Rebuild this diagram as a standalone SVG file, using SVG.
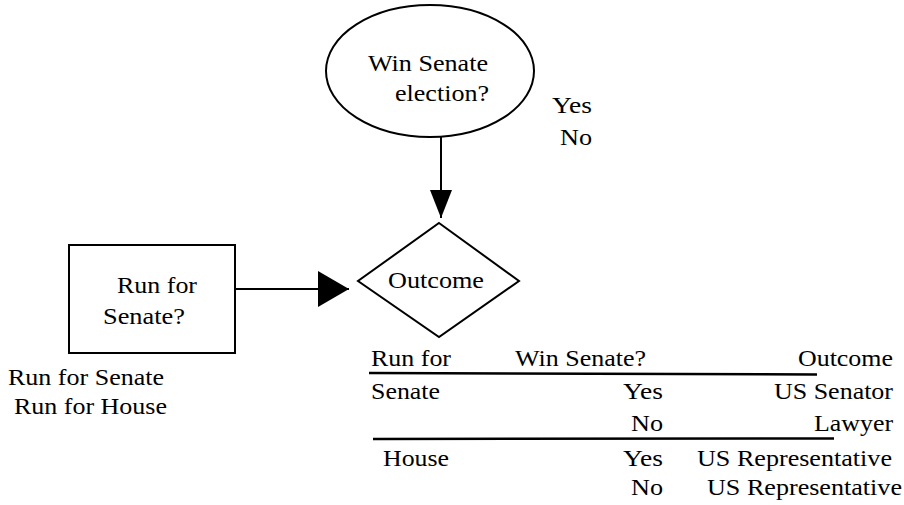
<svg xmlns="http://www.w3.org/2000/svg" width="904" height="505" viewBox="0 0 904 505">
  <style>
    .shape { fill: #ffffff; stroke: #000000; stroke-width: 2; }
    .edge { fill: none; stroke: #000000; stroke-width: 2; }
    .rule { fill: none; stroke: #000000; stroke-width: 2.5; }
    .lbl { font-family: 'Liberation Serif', 'Times New Roman', Times, serif; font-size: 24px; fill: #000000; }
  </style>
  <defs>
    <marker id="head-down" markerUnits="userSpaceOnUse" markerWidth="28" markerHeight="22" refX="28" refY="11" orient="auto">
      <path d="M0,0 L28,11 L0,22 Z" fill="#000000"/>
    </marker>
    <marker id="head-right" markerUnits="userSpaceOnUse" markerWidth="31" markerHeight="36" refX="31" refY="18" orient="auto">
      <path d="M0,0 L31,18 L0,36 Z" fill="#000000"/>
    </marker>
  </defs>

  <!-- chance node: election result -->
  <g id="node-win-senate">
    <ellipse class="shape" cx="430" cy="71" rx="104" ry="66"/>
    <text class="lbl" x="368" y="71" textLength="120" lengthAdjust="spacingAndGlyphs">Win Senate</text>
    <text class="lbl" x="395" y="101" textLength="94" lengthAdjust="spacingAndGlyphs">election?</text>
  </g>
  <g id="states-win-senate">
    <text class="lbl" x="552" y="113" textLength="40" lengthAdjust="spacingAndGlyphs">Yes</text>
    <text class="lbl" x="560" y="145" textLength="32" lengthAdjust="spacingAndGlyphs">No</text>
  </g>

  <!-- decision node -->
  <g id="node-run-for-senate">
    <rect class="shape" x="69" y="245" width="166" height="108"/>
    <text class="lbl" x="117" y="293" textLength="80" lengthAdjust="spacingAndGlyphs">Run for</text>
    <text class="lbl" x="103" y="324" textLength="82" lengthAdjust="spacingAndGlyphs">Senate?</text>
  </g>
  <g id="options-run-for">
    <text class="lbl" x="8" y="385" textLength="156" lengthAdjust="spacingAndGlyphs">Run for Senate</text>
    <text class="lbl" x="14" y="414" textLength="153" lengthAdjust="spacingAndGlyphs">Run for House</text>
  </g>

  <!-- value node -->
  <g id="node-outcome">
    <polygon class="shape" stroke-width="1.5" points="439,223 519,281 439,337 358,281"/>
    <text class="lbl" x="388" y="288" textLength="96" lengthAdjust="spacingAndGlyphs">Outcome</text>
  </g>

  <!-- influence arcs -->
  <g id="connectors">
    <line class="edge" x1="441" y1="137" x2="441" y2="218" marker-end="url(#head-down)"/>
    <line class="edge" x1="236" y1="289" x2="349" y2="289" marker-end="url(#head-right)"/>
  </g>

  <!-- outcome table -->
  <g id="outcome-table">
    <text class="lbl" x="371" y="366" textLength="80" lengthAdjust="spacingAndGlyphs">Run for</text>
    <text class="lbl" x="515" y="366" textLength="131" lengthAdjust="spacingAndGlyphs">Win Senate?</text>
    <text class="lbl" x="798" y="366" textLength="95" lengthAdjust="spacingAndGlyphs">Outcome</text>
    <line class="rule" x1="369" y1="373" x2="817" y2="374.5"/>

    <text class="lbl" x="371" y="399" textLength="69" lengthAdjust="spacingAndGlyphs">Senate</text>
    <text class="lbl" x="623" y="399" textLength="40" lengthAdjust="spacingAndGlyphs">Yes</text>
    <text class="lbl" x="774" y="399" textLength="119" lengthAdjust="spacingAndGlyphs">US Senator</text>

    <text class="lbl" x="631" y="431" textLength="32" lengthAdjust="spacingAndGlyphs">No</text>
    <text class="lbl" x="814" y="431" textLength="79" lengthAdjust="spacingAndGlyphs">Lawyer</text>
    <line class="rule" x1="373" y1="439" x2="834" y2="438.5"/>

    <text class="lbl" x="383" y="466" textLength="66" lengthAdjust="spacingAndGlyphs">House</text>
    <text class="lbl" x="623" y="466" textLength="40" lengthAdjust="spacingAndGlyphs">Yes</text>
    <text class="lbl" x="697" y="466" textLength="195" lengthAdjust="spacingAndGlyphs">US Representative</text>

    <text class="lbl" x="631" y="495" textLength="32" lengthAdjust="spacingAndGlyphs">No</text>
    <text class="lbl" x="707" y="495" textLength="195" lengthAdjust="spacingAndGlyphs">US Representative</text>
  </g>
</svg>
